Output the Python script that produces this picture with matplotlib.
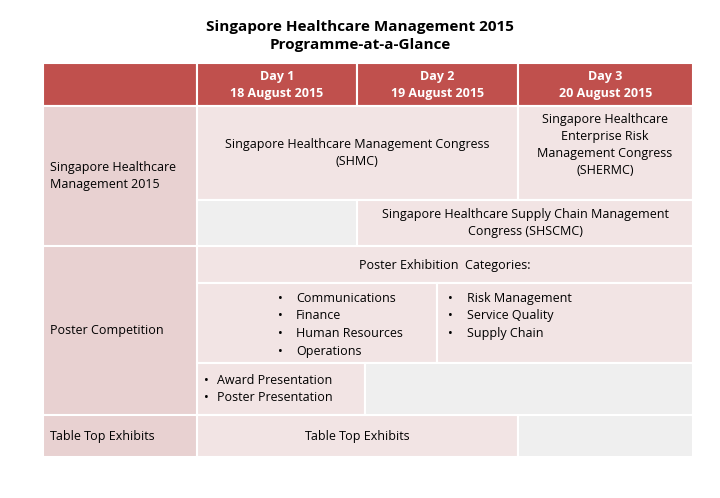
import matplotlib
matplotlib.use("Agg")
import matplotlib.pyplot as plt
from matplotlib.patches import Rectangle

title = "Singapore Healthcare Management 2015\nProgramme-at-a-Glance"
days = ["Day 1\n18 August 2015", "Day 2\n19 August 2015", "Day 3\n20 August 2015"]
row_labels = ["Singapore Healthcare\nManagement 2015", "Poster Competition", "Table Top Exhibits"]
shmc = "Singapore Healthcare Management Congress\n(SHMC)"
shermc = "Singapore Healthcare\nEnterprise Risk\nManagement Congress\n(SHERMC)"
shscmc = "Singapore Healthcare Supply Chain Management\nCongress (SHSCMC)"
poster_title = "Poster Exhibition  Categories:"
cats_left = ["Communications", "Finance", "Human Resources", "Operations"]
cats_right = ["Risk Management", "Service Quality", "Supply Chain"]
awards = ["Award Presentation", "Poster Presentation"]
tabletop = "Table Top Exhibits"

RED = "#C0504D"; LEFT = "#E8D1D1"; CELL = "#F2E4E4"; GREY = "#EFEFEF"
plt.rcParams["font.family"] = "Open Sans"
fig = plt.figure(figsize=(7.2, 4.98), dpi=100)
ax = fig.add_axes([0, 0, 1, 1])
ax.set_xlim(0, 720); ax.set_ylim(498, 0); ax.axis("off")

def cell(x0, x1, y0, y1, c):
    ax.add_patch(Rectangle((x0, y0), x1 - x0, y1 - y0, fc=c, ec="white", lw=1.5))

fs = 9
ax.text(360, 36, title, ha="center", va="center", fontsize=11, fontweight="bold", linespacing=1.4)
cols = [43, 197, 357, 518, 693]
cell(43, 197, 63, 106, RED)
for i, d in enumerate(days):
    cell(cols[i+1], cols[i+2], 63, 106, RED)
    ax.text((cols[i+1]+cols[i+2])/2, 85, d, ha="center", va="center", color="white", fontsize=fs, fontweight="bold", linespacing=1.4)
for lab, (y0, y1) in zip(row_labels, [(106, 246), (246, 415), (415, 457)]):
    cell(43, 197, y0, y1, LEFT)
    ax.text(50, (y0+y1)/2, lab, ha="left", va="center", fontsize=fs, linespacing=1.4)
cell(197, 518, 106, 200, CELL); ax.text(357, 153, shmc, ha="center", va="center", fontsize=fs, linespacing=1.4)
cell(518, 693, 106, 200, CELL); ax.text(605, 145, shermc, ha="center", va="center", fontsize=fs, linespacing=1.4)
cell(197, 357, 200, 246, GREY)
cell(357, 693, 200, 246, CELL); ax.text(525, 223, shscmc, ha="center", va="center", fontsize=fs, linespacing=1.4)
cell(197, 693, 246, 283, CELL); ax.text(445, 265, poster_title, ha="center", va="center", fontsize=fs)
cell(197, 437, 283, 363, CELL); cell(437, 693, 283, 363, CELL)
for i, c in enumerate(cats_left):
    y = 298 + i*17.7
    ax.text(278, y, "•", ha="left", va="center", fontsize=fs); ax.text(296, y, c, ha="left", va="center", fontsize=fs)
for i, c in enumerate(cats_right):
    y = 298 + i*17.7
    ax.text(448, y, "•", ha="left", va="center", fontsize=fs); ax.text(467, y, c, ha="left", va="center", fontsize=fs)
cell(197, 365, 363, 415, CELL); cell(365, 693, 363, 415, GREY)
for i, a in enumerate(awards):
    y = 380 + i*17.7
    ax.text(204, y, "•", ha="left", va="center", fontsize=fs); ax.text(217, y, a, ha="left", va="center", fontsize=fs)
cell(197, 518, 415, 457, CELL); ax.text(357, 436, tabletop, ha="center", va="center", fontsize=fs)
cell(518, 693, 415, 457, GREY)
fig.savefig("out.png", dpi=100)
